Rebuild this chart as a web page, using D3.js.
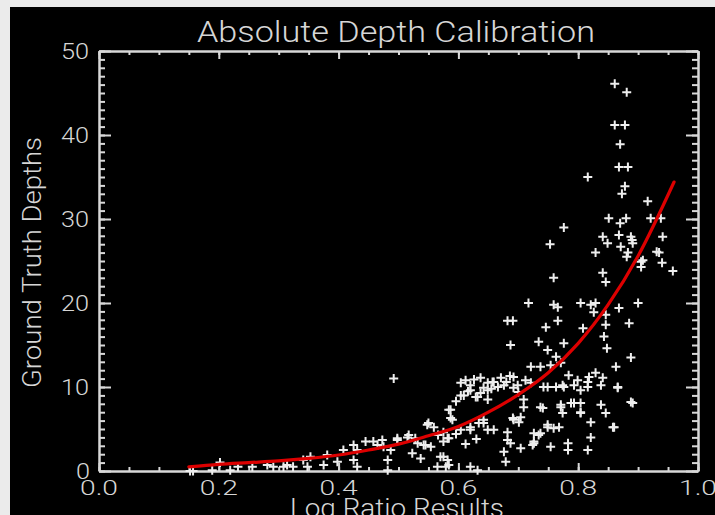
<!DOCTYPE html>
<html>
<head>
<meta charset="utf-8">
<script src="https://cdn.jsdelivr.net/npm/d3@7"></script>
<style>
    body { margin: 0; background: #ebebeb; }
    text { font-family: Roboto, "Liberation Sans", sans-serif; font-weight: 300; fill: #d6d6d6; }
</style>
</head>
<body>
<div id="calibration"></div>
<script>

// tick values and labels
var xMajor = [0.0, 0.2, 0.4, 0.6, 0.8, 1.0];
var xLabels = ["0.0", "0.2", "0.4", "0.6", "0.8", "1.0"];
var yMajor = [0, 10, 20, 30, 40, 50];
var yLabels = ["0", "10", "20", "30", "40", "50"];

// fitted curve
var fitX = [0.15, 0.2, 0.25, 0.3, 0.35, 0.4, 0.45, 0.5, 0.55, 0.6, 0.65, 0.7, 0.75, 0.8, 0.85, 0.9, 0.96];
var fitY = [0.5, 0.8, 1.0, 1.2, 1.5, 1.9, 2.5, 3.2, 4.2, 5.3, 7.0, 9.1, 11.7, 15.2, 19.8, 25.6, 34.4];

// measured points [log ratio, ground truth depth]
var samples = [
    [0.861,46.1],[0.881,45.1],[0.861,41.2],[0.878,41.2],[0.870,38.9],[0.868,36.2],[0.883,36.2],[0.816,35.0],
    [0.878,33.9],[0.873,33.0],[0.916,32.1],[0.776,29.0],[0.851,30.1],[0.880,30.1],[0.921,30.1],[0.938,30.1],
    [0.870,29.5],[0.841,27.9],[0.868,28.1],[0.888,27.9],[0.941,27.9],[0.849,27.1],[0.871,26.7],[0.891,27.1],
    [0.829,26.0],[0.883,26.0],[0.905,24.9],[0.935,26.0],[0.940,24.8],[0.958,23.8],[0.841,23.6],[0.905,24.3],
    [0.753,27.0],[0.890,27.5],[0.931,26.1],[0.881,25.5],[0.908,25.1],[0.759,23.0],[0.846,22.5],
    [0.717,20.0],[0.759,19.8],[0.766,19.5],[0.804,20.0],[0.821,19.8],[0.829,20.0],[0.826,18.9],[0.868,19.4],
    [0.900,20.0],[0.846,18.6],[0.691,17.9],[0.682,17.9],[0.746,17.1],[0.766,17.9],[0.808,17.0],[0.846,17.4],
    [0.885,17.6],[0.687,15.0],[0.734,15.4],[0.776,15.2],[0.749,14.4],[0.763,13.6],[0.721,12.4],[0.737,12.4],
    [0.754,12.6],[0.888,13.5],[0.843,16.0],[0.848,14.6],[0.863,12.4],[0.771,12.9],
    [0.637,11.1],[0.657,10.6],[0.671,11.1],[0.692,11.2],[0.742,10.0],[0.763,10.0],[0.784,11.4],[0.799,10.8],
    [0.818,11.2],[0.829,11.7],[0.841,11.1],[0.866,9.9],[0.888,8.2],[0.692,9.9],[0.637,9.3],[0.649,9.6],
    [0.776,10.0],[0.804,9.6],[0.816,10.6],[0.788,8.1],[0.804,8.1],[0.838,7.9],[0.846,6.9],[0.709,8.5],
    [0.737,7.6],[0.692,6.1],[0.704,6.4],[0.821,5.8],[0.804,6.9],[0.771,7.9],[0.774,6.9],[0.749,5.5],
    [0.768,5.2],[0.860,5.2],[0.642,6.1],[0.659,4.9],[0.726,3.3],[0.687,3.3],[0.737,4.5],[0.783,3.3],[0.821,4.0],
    [0.604,10.5],[0.620,9.6],[0.604,9.0],[0.649,10.5],[0.659,10.6],[0.676,10.2],[0.699,10.2],[0.721,10.5],
    [0.749,10.0],[0.774,10.2],[0.793,10.2],[0.816,10.0],[0.838,10.2],[0.866,10.0],[0.632,8.8],[0.649,8.5],
    [0.709,7.6],[0.741,7.5],[0.771,7.6],[0.793,8.1],[0.804,7.0],[0.891,8.1],[0.584,7.3],[0.590,6.1],
    [0.550,5.7],[0.604,4.9],[0.620,4.9],[0.642,5.7],[0.649,4.9],[0.691,6.3],[0.701,5.8],[0.749,5.2],
    [0.759,5.1],[0.858,5.2],[0.682,4.6],[0.726,4.5],[0.734,4.3],
    [0.445,3.5],[0.458,3.5],[0.473,3.7],[0.498,3.9],[0.517,4.3],[0.528,3.9],[0.545,3.1],[0.554,2.9],
    [0.575,3.5],[0.582,3.9],[0.726,3.5],[0.724,3.1],[0.682,3.7],[0.754,2.9],[0.783,2.5],[0.816,2.5],
    [0.704,2.7],[0.482,1.3],[0.523,2.1],[0.537,1.5],[0.570,1.7],[0.582,1.3],[0.584,0.7],[0.676,2.3],
    [0.679,1.1],[0.482,0.1],
    [0.492,11.0],[0.620,10.2],[0.609,9.0],[0.629,8.8],[0.642,9.9],[0.587,7.3],[0.548,5.5],[0.559,5.2],
    [0.575,4.6],[0.584,3.9],[0.587,6.3],[0.620,5.2],[0.634,5.7],[0.515,4.0],[0.532,3.3],[0.542,3.1],
    [0.498,3.7],[0.475,2.9],[0.465,3.1],[0.487,2.5],[0.425,3.1],[0.431,2.5],[0.408,2.5],[0.398,1.1],
    [0.425,1.3],[0.431,0.5],[0.381,1.9],[0.375,0.7],[0.341,1.3],[0.348,0.5],[0.353,1.7],[0.324,0.5],
    [0.314,0.7],[0.291,0.5],[0.308,0.5],[0.281,0.7],[0.256,0.5],[0.232,0.5],[0.219,0.1],[0.202,1.0],
    [0.189,0.1],[0.157,0.0],[0.152,0.0],[0.565,0.5],[0.575,1.7],[0.579,0.5],[0.620,0.5],[0.632,0.1],
    [0.612,10.8],[0.616,9.5],[0.626,10.9],[0.655,9.8],[0.666,10.0],[0.680,10.6],[0.686,11.3],[0.700,9.4],
    [0.712,10.8],[0.596,8.3],[0.566,4.3],[0.596,4.4],[0.612,3.2],[0.630,3.8]
];

/**
 * Constructor for the depth calibration chart
 */
function CalibrationChart(){
    var self = this;
    self.init();
};

/**
 * Creates the svg, the black panel and the scales
 */
CalibrationChart.prototype.init = function(){
    var self = this;
    self.width = 715;
    self.height = 515;
    self.box = {left: 99, right: 698, top: 51, bottom: 471};

    self.svg = d3.select("#calibration").append("svg")
        .attr("width", self.width)
        .attr("height", self.height)
        .style("display", "block");

    //grey window edge, then the black plot window
    self.svg.append("rect")
        .attr("width", self.width)
        .attr("height", self.height)
        .attr("fill", "#ebebeb");
    self.svg.append("rect")
        .attr("x", 10)
        .attr("y", 7)
        .attr("width", self.width - 10)
        .attr("height", self.height - 7)
        .attr("fill", "#000");

    self.xScale = d3.scaleLinear().domain([0, 1]).range([self.box.left, self.box.right]);
    self.yScale = d3.scaleLinear().domain([0, 50]).range([self.box.bottom, self.box.top]);
};

/**
 * Draws one axis with minor and major ticks (ticks pointing into the plot)
 */
CalibrationChart.prototype.drawAxis = function(maker, scale, minor, major, minorLen, majorLen, where){
    var self = this;
    var g = self.svg.append("g").attr("class", "axis").attr("transform", where);
    g.append("g").call(maker(scale).tickValues(minor).tickSize(minorLen).tickSizeOuter(0).tickFormat(""));
    g.append("g").call(maker(scale).tickValues(major).tickSize(majorLen).tickSizeOuter(0).tickFormat(""));
    g.selectAll("line").attr("stroke", "#d8d8d8").attr("stroke-width", 2);
    g.selectAll(".domain").attr("stroke", "#d8d8d8").attr("stroke-width", 2);
};

CalibrationChart.prototype.update = function(){
    var self = this;
    var x = self.xScale, y = self.yScale;

    var xMinor = d3.range(0, 21).map(function(i){ return i * 0.05; });
    var yMinor = d3.range(0, 51);

    self.drawAxis(d3.axisBottom, x, xMinor, xMajor, -4, -8, "translate(0," + self.box.bottom + ")");
    self.drawAxis(d3.axisTop, x, xMinor, xMajor, -4, -8, "translate(0," + self.box.top + ")");
    self.drawAxis(d3.axisLeft, y, yMinor, yMajor, -6, -12, "translate(" + self.box.left + ",0)");
    self.drawAxis(d3.axisRight, y, yMinor, yMajor, -6, -12, "translate(" + self.box.right + ",0)");

    //tick labels, widths follow the wide plotter font
    self.svg.selectAll(".xlabel").data(xMajor).enter().append("text")
        .attr("class", "xlabel")
        .attr("x", function(d){ return x(d) - 19; })
        .attr("y", 495)
        .attr("textLength", 38).attr("lengthAdjust", "spacingAndGlyphs")
        .style("font-size", "21px")
        .text(function(d, i){ return xLabels[i]; });

    self.svg.selectAll(".ylabel").data(yMajor).enter().append("text")
        .attr("class", "ylabel")
        .attr("x", function(d, i){ return 91 - yLabels[i].length * 15; })
        .attr("y", function(d){ return y(d) + 8; })
        .attr("textLength", function(d, i){ return yLabels[i].length * 14; })
        .attr("lengthAdjust", "spacingAndGlyphs")
        .style("font-size", "22px")
        .text(function(d, i){ return yLabels[i]; });

    //titles
    self.svg.append("text")
        .attr("x", 197).attr("y", 42)
        .attr("textLength", 398).attr("lengthAdjust", "spacingAndGlyphs")
        .style("font-size", "29px")
        .text("Absolute Depth Calibration");

    self.svg.append("text")
        .attr("x", 290).attr("y", 517)
        .attr("textLength", 214).attr("lengthAdjust", "spacingAndGlyphs")
        .style("font-size", "26px")
        .text("Log Ratio Results");

    self.svg.append("text")
        .attr("transform", "translate(41,388) rotate(-90)")
        .attr("textLength", 251).attr("lengthAdjust", "spacingAndGlyphs")
        .style("font-size", "26px")
        .text("Ground Truth Depths");

    //plus markers
    self.svg.append("g").selectAll("path").data(samples).enter().append("path")
        .attr("d", function(d){
            var px = x(d[0]), py = y(d[1]);
            return "M" + (px - 4.5) + "," + py + "H" + (px + 4.5) + "M" + px + "," + (py - 4.5) + "V" + (py + 4.5);
        })
        .attr("stroke", "#eeeeee")
        .attr("stroke-width", 2);

    //fitted curve
    var fit = fitX.map(function(d, i){ return [d, fitY[i]]; });
    var line = d3.line()
        .x(function(d){ return x(d[0]); })
        .y(function(d){ return y(d[1]); })
        .curve(d3.curveMonotoneX);

    self.svg.append("path")
        .datum(fit)
        .attr("d", line)
        .attr("fill", "none")
        .attr("stroke", "#dd0000")
        .attr("stroke-width", 3.2)
        .attr("stroke-linecap", "round");
};

var chart = new CalibrationChart();
chart.update();

</script>
</body>
</html>
